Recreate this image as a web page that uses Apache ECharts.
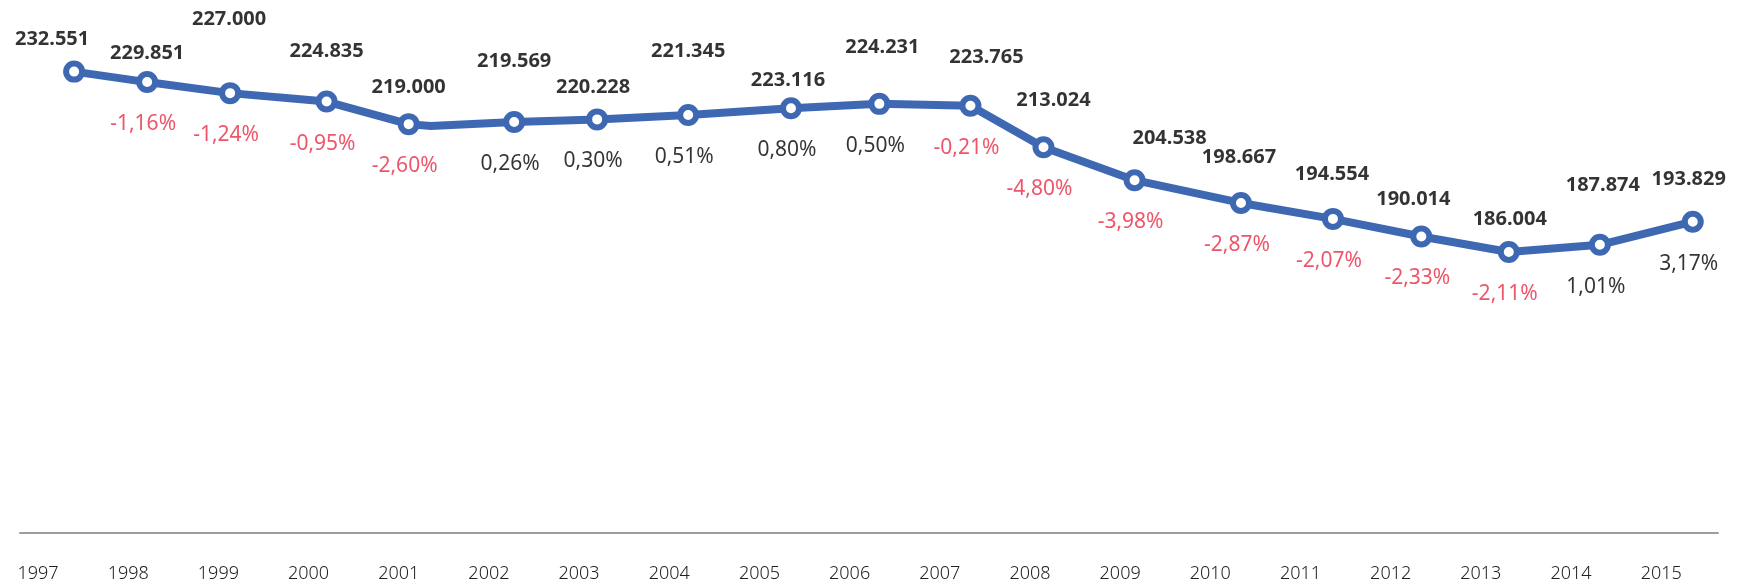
<!DOCTYPE html>
<html>
<head>
    <meta charset="utf-8" />
    <title></title>
    <script src="https://cdn.jsdelivr.net/npm/echarts@6/dist/echarts.min.js"></script>
    <style>html, body { margin: 0; padding: 0; background: #fff; }</style>
</head>
<body>
    <div id="divChart" style="width:1749px;height:585px;"></div>
    <script>
        // años del eje
        let years = [1997, 1998, 1999, 2000, 2001, 2002, 2003, 2004, 2005, 2006, 2007, 2008, 2009, 2010, 2011, 2012, 2013, 2014, 2015];
        // posición horizontal de cada punto (en años, el gráfico original no es regular)
        let xPos = [1997.40, 1998.21, 1999.13, 2000.20, 2001.11, 2002.28, 2003.20, 2004.21, 2005.35, 2006.33, 2007.34, 2008.15, 2009.16, 2010.34, 2011.36, 2012.34, 2013.31, 2014.32, 2015.35];
        let values = [232551, 229851, 227000, 224835, 219000, 219569, 220228, 221345, 223116, 224231, 223765, 213024, 204538, 198667, 194554, 190014, 186004, 187874, 193829];
        let pctText = ['', '-1,16%', '-1,24%', '-0,95%', '-2,60%', '0,26%', '0,30%', '0,51%', '0,80%', '0,50%', '-0,21%', '-4,80%', '-3,98%', '-2,87%', '-2,07%', '-2,33%', '-2,11%', '1,01%', '3,17%'];
        // quiebre de la línea entre 2001 y 2002
        let bendPoint = [2001.355, 218500];

        // desplazamiento de las etiquetas de valor (px)
        let valueLabelShift = [[-22, -32], [0, -29], [-1, -74], [0, -50], [0, -37], [0, -61], [-4, -32], [0, -64], [-3, -28], [3, -57], [16, -48], [10, -47], [35, -42], [-2, -46], [-1, -45], [-8, -37], [1, -33], [3, -59], [-4, -42]];

        const BLUE = '#3e69b2';
        const RED = '#ea2a44';
        const FONT = '"Noto Sans", Lato, sans-serif';

        let fmt = function (v) {
            return String(v).replace(/\B(?=(\d{3})+(?!\d))/g, '.');
        };

        function InitChart() {
            let lineData = [];
            let valueData = [];
            let pctData = [];
            for (let i = 0; i < values.length; i++) {
                lineData.push({ value: [xPos[i], values[i]] });
                if (years[i] === 2001) {
                    lineData.push({ value: bendPoint, symbol: 'none' });
                }
                valueData.push({
                    value: [xPos[i], values[i]],
                    label: { offset: valueLabelShift[i] }
                });
                if (pctText[i]) {
                    pctData.push({
                        value: [xPos[i], values[i]],
                        name: pctText[i],
                        label: { color: pctText[i].charAt(0) === '-' ? RED : '#000' }
                    });
                }
            }

            var option = {
                backgroundColor: '#fff',
                animation: false,
                grid: {
                    top: 4,
                    bottom: 52,
                    left: 20,
                    right: 31
                },
                xAxis: {
                    type: 'value',
                    min: 1996.8,
                    max: 2015.63,
                    splitLine: { show: false },
                    axisTick: { show: false },
                    axisLine: {
                        lineStyle: { color: '#9d9d9d', width: 2 }
                    },
                    axisLabel: {
                        customValues: years,
                        formatter: function (v) { return String(v); },
                        margin: 32,
                        fontSize: 18,
                        fontWeight: 300,
                        color: '#222',
                        fontFamily: FONT
                    }
                },
                yAxis: {
                    type: 'value',
                    min: 113500,
                    max: 250000,
                    show: false
                },
                series: [{
                    type: 'line',
                    data: lineData,
                    symbol: 'circle',
                    symbolSize: 16,
                    showAllSymbol: true,
                    z: 3,
                    lineStyle: { color: BLUE, width: 8 },
                    itemStyle: { color: '#fff', borderColor: BLUE, borderWidth: 6 },
                    silent: true
                }, {
                    type: 'scatter',
                    data: valueData,
                    symbolSize: 1,
                    itemStyle: { color: 'rgba(0,0,0,0)' },
                    z: 4,
                    silent: true,
                    label: {
                        show: true,
                        position: 'inside',
                        formatter: function (p) { return fmt(p.value[1]); },
                        fontSize: 20,
                        fontWeight: 'bold',
                        color: '#000',
                        fontFamily: FONT
                    }
                }, {
                    type: 'scatter',
                    data: pctData,
                    symbolSize: 1,
                    itemStyle: { color: 'rgba(0,0,0,0)' },
                    z: 4,
                    silent: true,
                    label: {
                        show: true,
                        position: 'inside',
                        offset: [-4, 42],
                        formatter: function (p) { return p.name; },
                        fontSize: 21,
                        color: '#000',
                        fontFamily: FONT
                    }
                }]
            };
            echarts.init(document.getElementById('divChart')).setOption(option);
        }

        InitChart();
    </script>
</body>
</html>
